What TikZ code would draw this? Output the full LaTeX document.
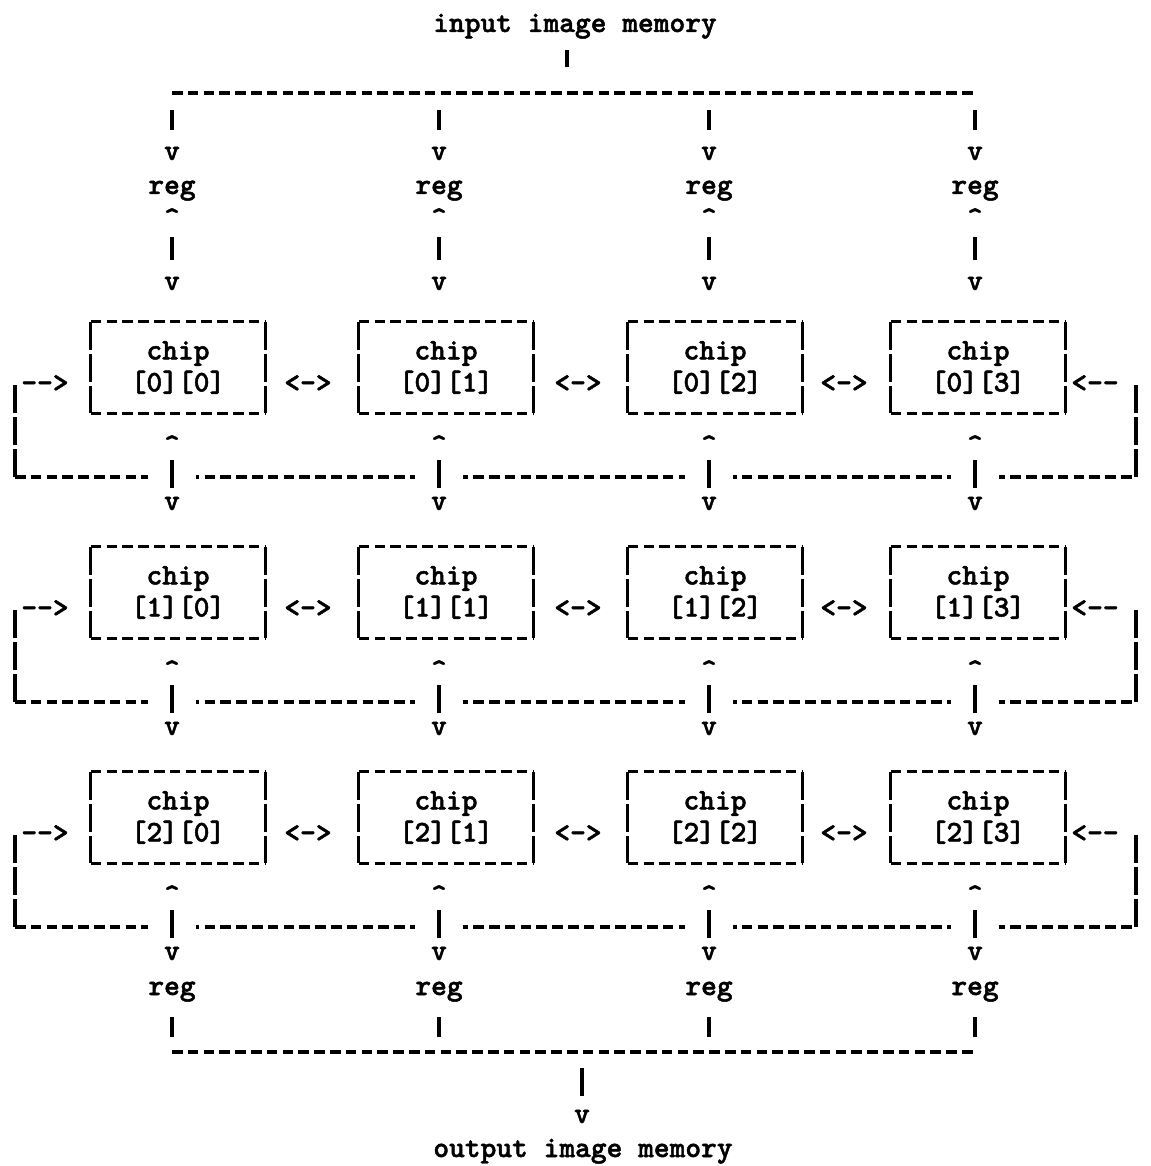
\documentclass[tikz,border=0pt]{standalone}
\usepackage{fontspec}
\setmonofont{lmmonolt10-bold.otf}[FakeBold=1.6]
\tikzset{
  mono/.style={font=\fontsize{30}{32}\selectfont\ttfamily},
  glyph/.style={mono, inner sep=0pt, text height=14pt, text depth=0pt},
  chipbox/.style={mono, align=center, inner sep=0pt, minimum width=174pt, minimum height=91pt},
  dashline/.style={line width=3.2pt, dash pattern=on 10.5pt off 5.3pt},
  barline/.style={line width=3.2pt, dash pattern=on 28pt off 4pt},
}
\begin{document}
\begin{tikzpicture}[x=1pt,y=-1pt]
\useasboundingbox (0,0) rectangle (1150,1166);
% ---- image memories and the two buses ----
\node[glyph] (inmem) at (575,25) {input image memory};
\node[glyph] (outmem) at (583,1150) {output image memory};
\node[glyph] (vo) at (582,1116) {v};
\coordinate (tl) at (172,93); \coordinate (tr) at (975,93);
\coordinate (bl) at (172,1052); \coordinate (br) at (975,1052);
\coordinate (ij) at (567,93); \coordinate (oj) at (582,1052);
\draw[dashline] (tl) -- (tr);
\draw[dashline] (bl) -- (br);
\draw[barline,shorten <=18pt,shorten >=26pt] (ij |- inmem.south) -- (ij);
\draw[barline,shorten <=16pt,shorten >=12pt] (oj) -- (vo);
% ---- input and output registers ----
\foreach \c/\x in {0/172,1/439,2/709,3/975} {
  \node[glyph] (vi\c) at (\x,153) {v};
  \node[glyph] (rgi\c) at (\x,187) {reg};
  \node[glyph] (ui\c) at (\x,220) {\textasciicircum};
  \node[glyph] (vc\c) at (\x,283) {v};
  \draw[barline,shorten <=17pt,shorten >=16pt] (\x,93) -- (vi\c);
  \draw[barline,shorten <=10pt,shorten >=16pt] (ui\c) -- (vc\c);
  \node[glyph] (rgo\c) at (\x,988) {reg};
  \draw[barline,shorten <=22pt,shorten >=15pt] (rgo\c) -- (\x,1052);
}
% ---- chip array ----
\foreach \r in {0,1,2} {
  \foreach \c/\x/\bx in {0/172/178,1/439/446,2/709/715,3/975/978} {
    \node[chipbox] (ch\r\c) at (\bx,367.5+225*\r) {chip\\{}[\r][\c]};
    \draw[dashline] (ch\r\c.north west) -- (ch\r\c.north east) (ch\r\c.south west) -- (ch\r\c.south east);
    \draw[barline] (ch\r\c.north west) -- (ch\r\c.south west) (ch\r\c.north east) -- (ch\r\c.south east);
    \node[glyph] (cu\r\c) at (\x,447+225*\r) {\textasciicircum};
    \node[glyph] (cd\r\c) at (\x,503+225*\r) {v};
  }
  \foreach \c/\x in {0/308,1/578,2/844}
    \node[glyph] (lr\r\c) at (\x,385+225*\r) {<->};
  % wrap-around link, last column back to first
  \node[glyph] (wa\r) at (45,385+225*\r) {-{}-{}>};
  \node[glyph] (wb\r) at (1095,385+225*\r) {<-{}-};
  \coordinate (wl\r) at (15,385+225*\r); \coordinate (wlb\r) at (15,477+225*\r);
  \coordinate (wr\r) at (1136,385+225*\r); \coordinate (wrb\r) at (1136,477+225*\r);
  \draw[barline] (wl\r) -- (wlb\r);
  \draw[barline] (wr\r) -- (wrb\r);
  \draw[dashline] (wlb\r) -- (wrb\r);
  \foreach \c in {0,...,3}
    \draw[barline,shorten <=6pt,shorten >=4pt,preaction={draw=white,line width=48pt,solid}] (cu\r\c) -- (cd\r\c);
}
\end{tikzpicture}
\end{document}
